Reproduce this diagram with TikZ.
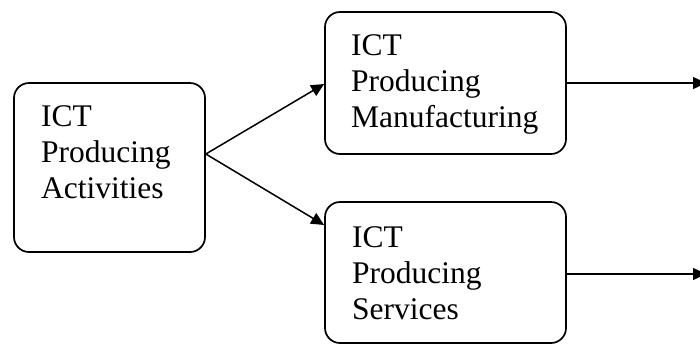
\documentclass[tikz,border=0pt]{standalone}
\usepackage{fontspec}
\setmainfont{Liberation Serif}
\newfontfamily\tnr{Liberation Serif}
\usetikzlibrary{arrows.meta}
\begin{document}
\begin{tikzpicture}[x=1pt,y=-1pt,
  box/.style={draw=black,line width=1.7pt,rounded corners=15pt,inner sep=0pt},
  lbl/.style={anchor=north west,inner sep=0pt,align=left,font=\tnr\fontsize{31.5}{36}\selectfont},
  conn/.style={line width=1.5pt,-{Triangle[length=13pt,width=12pt]}}]
\useasboundingbox (0,0) rectangle (700,346);
\node[box,minimum width=191pt,minimum height=169pt] (L) at (109.5,167.5) {};
\node[box,minimum width=241pt,minimum height=142pt] (T) at (445.5,83) {};
\node[box,minimum width=241pt,minimum height=141pt] (B) at (445.5,272.5) {};
\node[lbl] (Lt) at (41,105) {ICT\\Producing\\Activities};
\node[lbl] (Tt) at (351,34) {ICT\\Producing\\Manufacturing};
\node[lbl] (Bt) at (352,226) {ICT\\Producing\\Services};
\coordinate (eT) at (706,83);
\coordinate (eB) at (706,274);
\draw[conn] ([yshift=13.5pt]L.east) -- ([yshift=-1pt]T.west);
\draw[conn] ([yshift=13.5pt]L.east) -- ([yshift=47.5pt]B.west);
\draw[conn] (T.east) -- (eT);
\draw[conn] ([yshift=-1.5pt]B.east) -- (eB);
\end{tikzpicture}
\end{document}
